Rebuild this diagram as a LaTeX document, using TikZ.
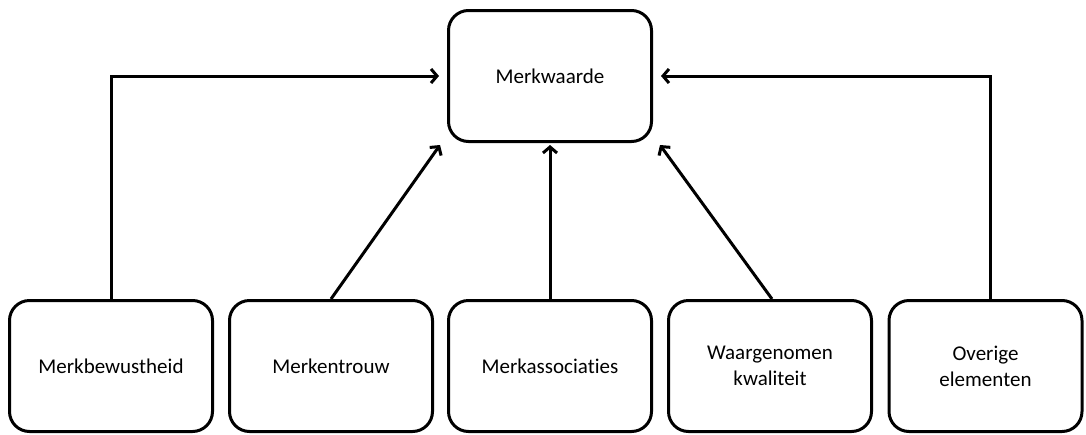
\documentclass[tikz,border=0pt]{standalone}
\usepackage{fontspec}
\setmainfont[Ligatures=NoCommon]{Carlito}
\usetikzlibrary{arrows.meta}
\begin{document}
\begin{tikzpicture}[x=1pt,y=-1pt,
  box/.style={draw, line width=3pt, rounded corners=20pt, minimum width=203pt,
    minimum height=131pt, align=center, font=\fontsize{21}{26}\selectfont, inner sep=0pt},
  link/.style={line width=3pt, -{Straight Barb[length=6pt,width=14pt,line width=3pt]}}]
\useasboundingbox (0,0) rectangle (1086,434);
\node[box] (top) at (550,76) {Merkwaarde};
\node[box] (b1) at (111,366) {Merkbewustheid};
\node[box] (b2) at (331,366) {Merkentrouw};
\node[box] (b3) at (550,366) {Merkassociaties};
\node[box] (b4) at (770,366) {Waargenomen\\kwaliteit};
\node[box, minimum width=193pt] (b5) at (985.5,366) {Overige\\elementen};
\coordinate (c1) at (111,76);
\coordinate (c5) at (990,76);
\coordinate (s5) at (990,300);
\draw[link] (b1.north) -- (c1) -- ([xshift=-8pt]top.west);
\draw[link] (s5) -- (c5) -- ([xshift=8pt]top.east);
\draw[link] (b2.north) -- ([xshift=-7pt,yshift=-2pt]top.south west);
\draw[link] (b3.north) -- ([yshift=-2pt]top.south);
\draw[link] ([xshift=2pt]b4.north) -- ([xshift=7pt,yshift=-2pt]top.south east);
\end{tikzpicture}
\end{document}
